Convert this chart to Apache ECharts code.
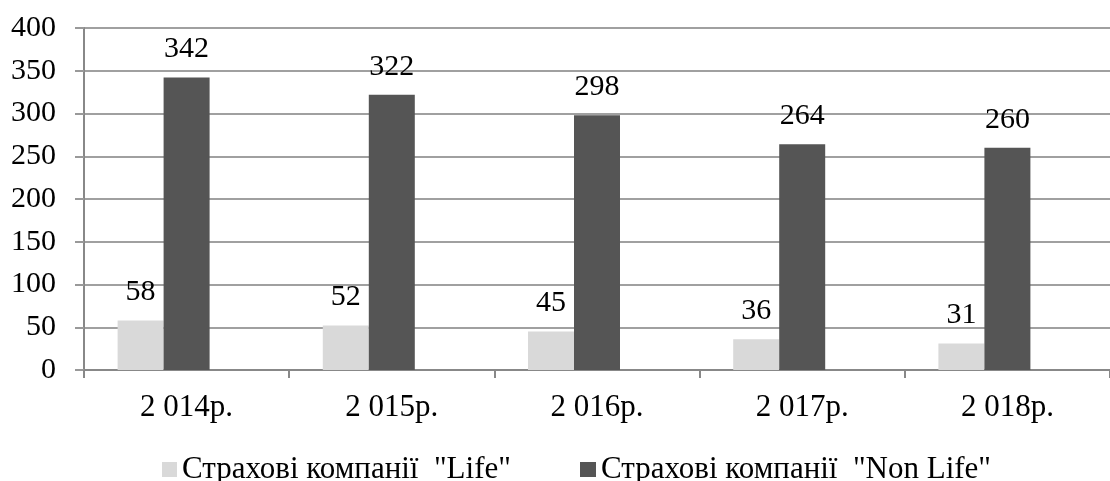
<!DOCTYPE html>
<html>
<head>
<meta charset="utf-8">
<script src="https://cdn.jsdelivr.net/npm/echarts@6/dist/echarts.min.js"></script>
<style>html,body{margin:0;padding:0;background:#fff;}#c{width:1110px;height:481px;}</style>
</head>
<body>
<div id="c"></div>
<script>
const categories = ['2 014р.', '2 015р.', '2 016р.', '2 017р.', '2 018р.'];
const lifeName = 'Страхові компанії  "Life"';
const nonLifeName = 'Страхові компанії  "Non Life"';
const lifeValues = [58, 52, 45, 36, 31];
const nonLifeValues = [342, 322, 298, 264, 260];
const emptyValues = ['-', '-', '-', '-', '-'];

const FONT = "Liberation Serif";
const legendText = { fontFamily: FONT, fontSize: 31, color: '#000' };
const chart = echarts.init(document.getElementById('c'));
chart.setOption({
  animation: false,
  backgroundColor: '#fff',
  textStyle: { fontFamily: FONT },
  grid: { left: 84, top: 28, bottom: 111, width: 1035 },
  legend: [
    { data: [lifeName], top: 449, left: 157, itemWidth: 15, itemHeight: 15, itemGap: 6, icon: 'rect', textStyle: legendText },
    { data: [nonLifeName], top: 449, left: 575, itemWidth: 16, itemHeight: 15, itemGap: 6, icon: 'rect', textStyle: legendText }
  ],
  xAxis: {
    type: 'category',
    data: categories,
    axisLine: { lineStyle: { color: '#888', width: 2 } },
    axisTick: { show: true, length: 8, lineStyle: { color: '#888', width: 2 } },
    axisLabel: { fontFamily: FONT, fontSize: 31, color: '#000', margin: 22 }
  },
  yAxis: {
    type: 'value',
    min: 0, max: 400, interval: 50,
    axisLine: { show: true, lineStyle: { color: '#888', width: 2 } },
    axisTick: { show: true, length: 9, lineStyle: { color: '#999', width: 2 } },
    splitLine: { lineStyle: { color: '#a0a0a0', width: 2 } },
    axisLabel: { fontFamily: FONT, fontSize: 30, color: '#000', margin: 28 }
  },
  series: [
    {
      name: lifeName, type: 'bar', data: lifeValues, barWidth: 46, barGap: '0%',
      itemStyle: { color: '#d9d9d9' },
      label: { show: true, position: 'top', distance: 13, fontFamily: FONT, fontSize: 30, color: '#000' }
    },
    {
      name: nonLifeName, type: 'bar', data: nonLifeValues, barWidth: 46, barGap: '0%',
      itemStyle: { color: '#555555' },
      label: { show: true, position: 'top', distance: 13, fontFamily: FONT, fontSize: 30, color: '#000' }
    },
    {
      name: 'spacer', type: 'bar', data: emptyValues, barWidth: 46, barGap: '0%',
      itemStyle: { color: 'transparent' }, label: { show: false }
    }
  ]
});
</script>
</body>
</html>
